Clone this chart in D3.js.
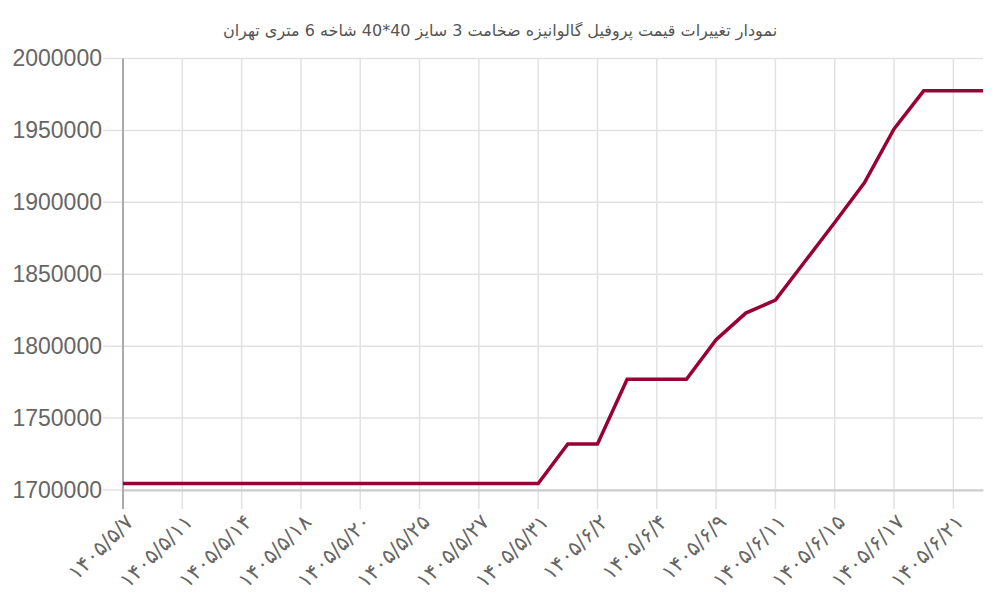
<!DOCTYPE html>
<html lang="fa">
<head>
  <meta charset="utf-8" />
  <title>نمودار تغییرات قیمت</title>
  <script src="https://cdnjs.cloudflare.com/ajax/libs/d3/7.8.5/d3.min.js"></script>
  <style>
    body { margin: 0; background: #fff; }
    #ChartArea { width: 1000px; height: 600px; }
  </style>
</head>
<body>
<div id="ChartArea"></div>
<script>
// عنوان نمودار
const chartTitle = "نمودار تغییرات قیمت پروفیل گالوانیزه ضخامت 3 سایز 40*40 شاخه 6 متری تهران";

// برچسب تاریخ‌ها (هر دو نقطه یک برچسب)
const tickLabels = [
  "۱۴۰۵/۵/۷", "۱۴۰۵/۵/۱۱", "۱۴۰۵/۵/۱۴", "۱۴۰۵/۵/۱۸", "۱۴۰۵/۵/۲۰",
  "۱۴۰۵/۵/۲۵", "۱۴۰۵/۵/۲۷", "۱۴۰۵/۵/۳۱", "۱۴۰۵/۶/۲", "۱۴۰۵/۶/۴",
  "۱۴۰۵/۶/۹", "۱۴۰۵/۶/۱۱", "۱۴۰۵/۶/۱۵", "۱۴۰۵/۶/۱۷", "۱۴۰۵/۶/۲۱"
];

// قیمت‌ها (ریال)
const prices = [
  1704500, 1704500, 1704500, 1704500, 1704500, 1704500, 1704500, 1704500,
  1704500, 1704500, 1704500, 1704500, 1704500, 1704500, 1704500,
  1732000, 1732000, 1777000, 1777000, 1777000, 1804500, 1823000, 1832000,
  1859000, 1886000, 1913500, 1951000, 1977500, 1977500, 1977500
];

// محور عمودی
const yTicks = [1700000, 1750000, 1800000, 1850000, 1900000, 1950000, 2000000];

const margin = {top: 58.5, right: 17, bottom: 110, left: 123};
const width = 1000 - margin.left - margin.right;
const height = 600 - margin.top - margin.bottom;

const svg = d3.select("#ChartArea").append("svg")
    .attr("width", 1000)
    .attr("height", 600)
    .style("font-family", "'Liberation Sans', 'DejaVu Sans', sans-serif");

// عنوان
svg.append("text")
    .attr("x", 500)
    .attr("y", 36)
    .attr("text-anchor", "middle")
    .attr("direction", "rtl")
    .style("font-family", "'DejaVu Sans', sans-serif")
    .style("font-size", "16px")
    .attr("fill", "#555")
    .text(chartTitle);

const g = svg.append("g")
    .attr("transform", "translate(" + margin.left + "," + margin.top + ")");

const x = d3.scalePoint()
    .domain(d3.range(prices.length))
    .range([0, width]);

const y = d3.scaleLinear()
    .domain([1700000, 2000000])
    .range([height, 0]);

const labelIdx = tickLabels.map(function(d, i) { return i * 2; });

// خطوط راهنمای افقی
g.append("g")
    .selectAll("line")
    .data(yTicks)
    .enter().append("line")
    .attr("x1", -20)
    .attr("x2", width)
    .attr("y1", function(d) { return y(d); })
    .attr("y2", function(d) { return y(d); })
    .attr("stroke", "#e2e2e2")
    .attr("stroke-width", 1.5);

// خطوط راهنمای عمودی
g.append("g")
    .selectAll("line")
    .data(labelIdx.slice(1))
    .enter().append("line")
    .attr("x1", function(d) { return x(d); })
    .attr("x2", function(d) { return x(d); })
    .attr("y1", 0)
    .attr("y2", height + 19)
    .attr("stroke", "#e2e2e2")
    .attr("stroke-width", 1.5);

// محور افقی
const xAxis = g.append("g")
    .attr("transform", "translate(0," + height + ")")
    .call(d3.axisBottom(x)
      .tickValues(labelIdx)
      .tickSize(0)
      .tickPadding(0)
      .tickFormat(function(d) { return tickLabels[d / 2]; }));
xAxis.select(".domain")
    .attr("stroke", "#cccccc")
    .attr("stroke-width", 2);
xAxis.selectAll("text")
    .attr("fill", "#666")
    .style("font-family", "'DejaVu Sans', sans-serif")
    .style("font-size", "21px")
    .attr("direction", "ltr")
    .attr("text-anchor", "end")
    .attr("dy", "0.35em")
    .attr("transform", "translate(6,28) rotate(-45)");

// محور عمودی
const yAxis = g.append("g")
    .call(d3.axisLeft(y)
      .tickValues(yTicks)
      .tickSize(0)
      .tickPadding(21)
      .tickFormat(d3.format("d")));
yAxis.select(".domain")
    .attr("stroke", "#aaaaaa")
    .attr("stroke-width", 2)
    .attr("d", "M0," + (height + 19) + "V0");
yAxis.selectAll("text")
    .attr("fill", "#666")
    .style("font-size", "23px");

// خط قیمت
const line = d3.line()
    .x(function(d, i) { return x(i); })
    .y(function(d) { return y(d); });

g.append("path")
    .datum(prices)
    .attr("fill", "none")
    .attr("stroke", "#990033")
    .attr("stroke-width", 3.5)
    .attr("stroke-linejoin", "miter")
    .attr("d", line);
</script>
</body>
</html>
